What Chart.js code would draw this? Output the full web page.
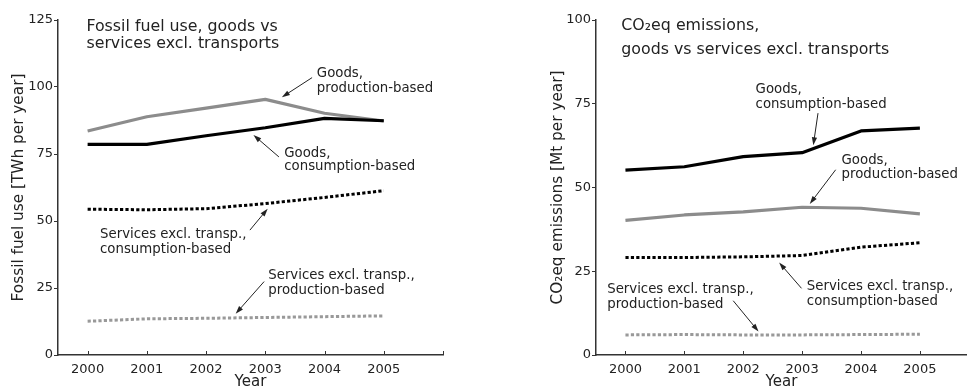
<!DOCTYPE html>
<html>
<head>
<meta charset="utf-8">
<script src="https://cdn.jsdelivr.net/npm/chart.js@4.4.0/dist/chart.umd.min.js"></script>
<style>
  html, body { margin: 0; padding: 0; width: 967px; height: 387px; overflow: hidden; background: #fff; }
  #leftBox  { position: absolute; left: 0;     top: 0; width: 483px; height: 395px; }
  #rightBox { position: absolute; left: 483px; top: 0; width: 484px; height: 395px; }
</style>
</head>
<body>
<div id="leftBox"><canvas id="fuelChart" width="483" height="395"></canvas></div>
<div id="rightBox"><canvas id="co2Chart" width="484" height="395"></canvas></div>
<script>
// ---- data ----
const years = [2000, 2001, 2002, 2003, 2004, 2005];
const yearLabels = ['2000', '2001', '2002', '2003', '2004', '2005'];

// Fossil fuel use [TWh per year]
const fuelGoodsProd = [83.6, 88.9, 92.1, 95.4, 90.2, 87.3];
const fuelGoodsCons = [78.6, 78.6, 81.8, 84.8, 88.3, 87.4];
const fuelServCons  = [54.4, 54.2, 54.6, 56.5, 58.8, 61.3];
const fuelServProd  = [12.6, 13.5, 13.7, 14.0, 14.3, 14.6];
const fuelTicks = [0, 25, 50, 75, 100, 125];

// CO2eq emissions [Mt per year]
const co2GoodsCons = [55.2, 56.2, 59.2, 60.4, 66.9, 67.7];
const co2GoodsProd = [40.2, 41.8, 42.7, 44.1, 43.8, 42.1];
const co2ServCons  = [29.1, 29.1, 29.3, 29.7, 32.2, 33.5];
const co2ServProd  = [6.0, 6.1, 6.0, 6.0, 6.1, 6.2];
const co2Ticks = [0, 25, 50, 75, 100];

// ---- text placed in data coordinates ----
const fuelTitle = { lines: ['Fossil fuel use, goods vs', 'services excl. transports'], x: 1999.98, y: [122.5, 115.9] };
const co2Title  = { lines: ['CO\u2082eq emissions,', 'goods vs services excl. transports'], x: 1999.93, y: [98.1, 91.1] };

const fuelNotes = [
  { lines: ['Goods,', 'production-based'], x: 2003.87, y: [105.2, 99.6], from: [2003.79, 103.5], to: [2003.28, 96.2] },
  { lines: ['Goods,', 'consumption-based'], x: 2003.32, y: [75.1, 70.3], from: [2003.23, 73.9], to: [2002.80, 82.1] },
  { lines: ['Services excl. transp.,', 'consumption-based'], x: 2000.21, y: [44.8, 39.2], from: [2002.74, 46.6], to: [2003.04, 54.6] },
  { lines: ['Services excl. transp.,', 'production-based'], x: 2003.05, y: [29.5, 23.9], from: [2002.98, 27.4], to: [2002.50, 15.4] }
];
const co2Notes = [
  { lines: ['Goods,', 'consumption-based'], x: 2002.21, y: [79.2, 74.7], from: [2003.27, 72.2], to: [2003.19, 62.6] },
  { lines: ['Goods,', 'production-based'], x: 2003.67, y: [57.9, 53.8], from: [2003.57, 55.3], to: [2003.13, 45.1] },
  { lines: ['Services excl. transp.,', 'consumption-based'], x: 2003.08, y: [20.4, 15.9], from: [2002.99, 19.9], to: [2002.61, 27.6] },
  { lines: ['Services excl. transp.,', 'production-based'], x: 1999.69, y: [19.4, 15.2], from: [2001.83, 16.2], to: [2002.26, 7.0] }
];

const FONT = '"DejaVu Sans", Verdana, sans-serif';
const INK = '#222';
const GRAY = '#8c8c8c';

function points(vals) { return years.map((yr, i) => ({ x: yr, y: vals[i] })); }

function arrow(ctx, x1, y1, x2, y2) {
  const ang = Math.atan2(y2 - y1, x2 - x1);
  const len = 8, half = 2.6;
  ctx.beginPath();
  ctx.moveTo(x1, y1);
  ctx.lineTo(x2 - Math.cos(ang) * len * 0.8, y2 - Math.sin(ang) * len * 0.8);
  ctx.stroke();
  ctx.beginPath();
  ctx.moveTo(x2, y2);
  ctx.lineTo(x2 - Math.cos(ang) * len - Math.sin(ang) * half, y2 - Math.sin(ang) * len + Math.cos(ang) * half);
  ctx.lineTo(x2 - Math.cos(ang) * len + Math.sin(ang) * half, y2 - Math.sin(ang) * len - Math.cos(ang) * half);
  ctx.closePath();
  ctx.fill();
}

// Draws the panel title, the labelled arrows and the inward x tick marks
const notesPlugin = {
  id: 'notes',
  afterDatasetsDraw(chart, args, opts) {
    const { ctx } = chart;
    const xs = chart.scales.x, ys = chart.scales.y;
    const px = v => xs.getPixelForValue(v);
    const py = v => ys.getPixelForValue(v);
    ctx.save();
    ctx.fillStyle = INK;
    ctx.strokeStyle = INK;
    ctx.textAlign = 'left';
    ctx.textBaseline = 'middle';

    ctx.font = '15.8px ' + FONT;
    opts.title.lines.forEach((t, i) => ctx.fillText(t, px(opts.title.x), py(opts.title.y[i])));

    ctx.font = '13.3px ' + FONT;
    ctx.lineWidth = 1;
    opts.notes.forEach(n => {
      n.lines.forEach((t, i) => ctx.fillText(t, px(n.x), py(n.y[i])));
      arrow(ctx, px(n.from[0]), py(n.from[1]), px(n.to[0]), py(n.to[1]));
    });

    // tick marks pointing up into the plot
    ctx.strokeStyle = '#333';
    ctx.lineWidth = 1;
    const bottom = chart.chartArea.bottom;
    const marks = xs.ticks.map(t => t.value);
    if (opts.endTick) marks.push(xs.max);
    marks.forEach(v => {
      const x = Math.round(px(v)) + 0.5;
      ctx.beginPath();
      ctx.moveTo(x, bottom);
      ctx.lineTo(x, bottom - 4);
      ctx.stroke();
    });
    ctx.restore();
  }
};

function lineSet(vals, color, dotted) {
  return {
    data: points(vals),
    borderColor: color,
    backgroundColor: color,
    borderWidth: dotted ? 3 : 3.2,
    borderDash: dotted ? [3.2, 2.2] : [],
    borderCapStyle: 'butt',
    borderJoinStyle: 'round',
    pointRadius: 0,
    tension: 0,
    fill: false
  };
}

function makeChart(id, cfg) {
  return new Chart(document.getElementById(id), {
    type: 'line',
    data: {
      datasets: [
        lineSet(cfg.goodsCons, '#000', false),
        lineSet(cfg.goodsProd, GRAY, false),
        lineSet(cfg.servCons, '#000', true),
        lineSet(cfg.servProd, '#999', true)
      ]
    },
    options: {
      responsive: false,
      animation: false,
      events: [],
      layout: { padding: cfg.padding },
      plugins: {
        legend: { display: false },
        tooltip: { enabled: false },
        notes: { title: cfg.title, notes: cfg.notes, endTick: cfg.endTick }
      },
      scales: {
        x: {
          type: 'linear',
          min: 1999.5,
          max: cfg.xMax,
          afterBuildTicks: s => { s.ticks = years.map(v => ({ value: v })); },
          afterFit: s => { s.height = 40; },
          grid: { display: false },
          border: { display: true, color: '#333', width: 1.5 },
          ticks: {
            padding: -1,
            color: INK,
            font: { family: FONT, size: 13 },
            maxRotation: 0,
            autoSkip: false,
            callback: v => yearLabels[years.indexOf(v)]
          },
          title: {
            display: true,
            text: 'Year',
            color: INK,
            font: { family: FONT, size: 15 },
            padding: { top: 0, bottom: 4 }
          }
        },
        y: {
          min: 0,
          max: cfg.yMax,
          afterBuildTicks: s => { s.ticks = cfg.yTicks.map(v => ({ value: v })); },
          afterFit: s => { s.width = 58; },
          grid: { drawOnChartArea: false, drawTicks: true, tickLength: 4, color: '#333', tickColor: '#333' },
          border: { display: true, color: '#333', width: 1.5 },
          ticks: {
            padding: 1,
            color: INK,
            font: { family: FONT, size: 13 },
            callback: v => String(v)
          },
          title: {
            display: true,
            text: cfg.yTitle,
            color: INK,
            font: { family: FONT, size: 15.3 },
            padding: { top: cfg.yTitlePad, bottom: 0 }
          }
        }
      }
    },
    plugins: [notesPlugin]
  });
}

makeChart('fuelChart', {
  goodsCons: fuelGoodsCons, goodsProd: fuelGoodsProd, servCons: fuelServCons, servProd: fuelServProd,
  yTicks: fuelTicks, yMax: 125, xMax: 2006,
  yTitle: 'Fossil fuel use [TWh per year]', yTitlePad: 10,
  padding: { left: 0, top: 20, right: 40, bottom: 0 },
  title: fuelTitle, notes: fuelNotes, endTick: true
});

makeChart('co2Chart', {
  goodsCons: co2GoodsCons, goodsProd: co2GoodsProd, servCons: co2ServCons, servProd: co2ServProd,
  yTicks: co2Ticks, yMax: 100, xMax: 2005.8,
  yTitle: 'CO\u2082eq emissions [Mt per year]', yTitlePad: 11,
  padding: { left: 55, top: 20, right: 0, bottom: 0 },
  title: co2Title, notes: co2Notes, endTick: false
});
</script>
</body>
</html>
